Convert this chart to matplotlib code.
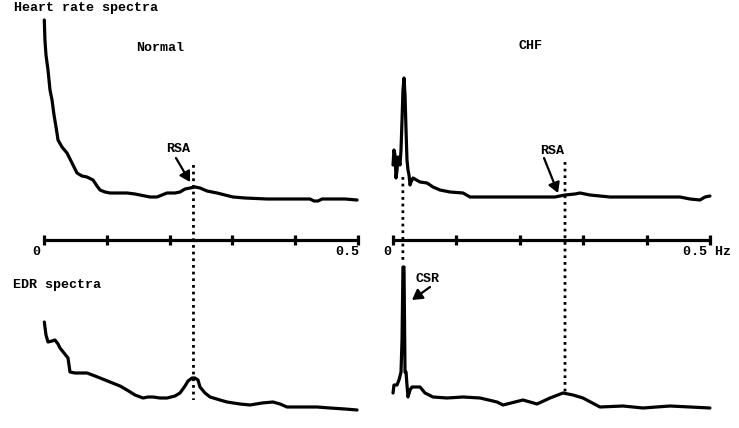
import matplotlib
matplotlib.use("Agg")
import matplotlib.pyplot as plt
from matplotlib.patches import ConnectionPatch

# ---------------- data (frequency in Hz, power in arbitrary units) ----------------
hr_normal_f = [0.0, 0.001, 0.0027, 0.0059, 0.0091, 0.0123, 0.0155, 0.0187, 0.0219, 0.0282,
               0.0362, 0.0442, 0.0522, 0.0601, 0.0681, 0.0777, 0.0841, 0.0889, 0.0968, 0.1048,
               0.1208, 0.1319, 0.1447, 0.1527, 0.1686, 0.1798, 0.1878, 0.1958, 0.2085, 0.2165,
               0.2245, 0.2325, 0.2404, 0.2484, 0.2596, 0.2676, 0.2756, 0.2883, 0.3011, 0.3203,
               0.3553, 0.3920, 0.4239, 0.4303, 0.4367, 0.4431, 0.4606, 0.4798, 0.4990]
hr_normal_p = [220, 200, 185, 170, 150, 140, 125, 113, 100, 93,
               87, 77, 67, 64, 63, 60, 54, 50, 48, 47,
               47, 47, 46, 45, 43, 43, 45, 47, 47, 48,
               51, 52, 53, 52, 49, 48, 47, 45, 43, 42,
               41, 41, 41, 39, 39, 41, 41, 41, 40]

hr_chf_f = [0.0005, 0.002, 0.0036, 0.0052, 0.0068, 0.0083, 0.0099, 0.0115, 0.0131, 0.0147,
            0.0162, 0.0178, 0.0194, 0.0210, 0.0225, 0.0241, 0.0257, 0.0273, 0.0288, 0.0320,
            0.0430, 0.0541, 0.0635, 0.0745, 0.0903, 0.1108, 0.1218, 0.1691, 0.2163, 0.2557,
            0.2715, 0.2872, 0.2951, 0.3108, 0.3423, 0.3897, 0.4527, 0.4685, 0.4842, 0.4921, 0.4999]
hr_chf_p = [75, 90, 85, 62, 70, 83, 80, 75, 90, 120,
            150, 162, 145, 110, 80, 70, 65, 55, 58, 62,
            58, 57, 53, 50, 48, 47, 43, 43, 43, 43,
            45, 46, 47, 45, 43, 43, 43, 41, 40, 43, 44]

edr_normal_f = [0.0, 0.0027, 0.0059, 0.0123, 0.0171, 0.0219, 0.0251, 0.0314, 0.0378, 0.041,
                0.0490, 0.0681, 0.0809, 0.0889, 0.1048, 0.1208, 0.1319, 0.1447, 0.1575, 0.1655,
                0.1734, 0.1846, 0.1958, 0.2085, 0.2165, 0.2245, 0.2293, 0.2357, 0.2404, 0.2452,
                0.2484, 0.2564, 0.2644, 0.2803, 0.2915, 0.3122, 0.3282, 0.3473, 0.3649, 0.3761,
                0.3872, 0.4080, 0.4351, 0.4558, 0.4798, 0.4990]
edr_normal_p = [98, 85, 78, 79, 80, 76, 72, 67, 62, 48,
                47, 47, 44, 42, 38, 34, 30, 25, 22, 23,
                23, 22, 22, 24, 27, 34, 39, 42, 42, 40,
                33, 27, 23, 20, 18, 16, 15, 17, 18, 16,
                13, 13, 13, 12, 11, 10]

edr_chf_f = [0.0005, 0.002, 0.0068, 0.0099, 0.0131, 0.0147, 0.0162, 0.0178, 0.0194, 0.0210,
             0.0225, 0.0241, 0.0273, 0.0304, 0.0430, 0.0509, 0.0635, 0.0856, 0.1108, 0.1376,
             0.1644, 0.1738, 0.2053, 0.2274, 0.2479, 0.2683, 0.2841, 0.2998, 0.3266, 0.3629,
             0.3944, 0.4369, 0.4685, 0.4999]
edr_chf_p = [27, 35, 35, 40, 48, 80, 153, 153, 48, 48,
             35, 23, 30, 33, 33, 27, 23, 22, 23, 22,
             18, 15, 20, 16, 22, 27, 25, 22, 13, 14,
             12, 14, 13, 12]

ticks = [0.0, 0.1, 0.2, 0.3, 0.4, 0.5]
rsa_normal = 0.238
rsa_chf = 0.2715
csr_chf = 0.016

# ---------------- figure ----------------
W, H = 739, 428
fig = plt.figure(figsize=(W / 100, H / 100), dpi=100)
FONT = dict(family="Liberation Mono", fontweight="bold", fontsize=9.6, color="black")

def box(x0, x1, ytop, ybot):
    return [x0 / W, (H - ybot) / H, (x1 - x0) / W, (ybot - ytop) / H]

ax_tl = fig.add_axes(box(44.3, 357.7, 0, 240))
ax_tr = fig.add_axes(box(392.7, 710.0, 0, 240))
ax_bl = fig.add_axes(box(44.3, 357.7, 250, 420))
ax_br = fig.add_axes(box(392.7, 710.0, 250, 420))

for ax in (ax_tl, ax_tr):
    ax.set_xlim(0, 0.5)
    ax.set_ylim(0, 240)
for ax in (ax_bl, ax_br):
    ax.set_xlim(0, 0.5)
    ax.set_ylim(0, 170)

for ax in (ax_tl, ax_tr, ax_bl, ax_br):
    ax.patch.set_visible(False)
    for s in ("top", "right", "left"):
        ax.spines[s].set_visible(False)
    ax.set_yticks([])

for ax in (ax_bl, ax_br):
    ax.spines["bottom"].set_visible(False)
    ax.set_xticks([])

for ax in (ax_tl, ax_tr):
    ax.spines["bottom"].set_linewidth(2.3)
    ax.spines["bottom"].set_capstyle("butt")
    ax.set_xticks(ticks)
    ax.set_xticklabels([])
    ax.tick_params(axis="x", direction="inout", length=6.5, width=2.3, color="black")

LW = 2.3
kw = dict(color="black", lw=LW, solid_joinstyle="round", solid_capstyle="round", clip_on=False)
ax_tl.plot(hr_normal_f, hr_normal_p, **kw)
ax_tr.plot(hr_chf_f, hr_chf_p, **kw)
ax_bl.plot(edr_normal_f, edr_normal_p, **kw)
ax_br.plot(edr_chf_f, edr_chf_p, **kw)

# axis numbers
ax_tl.text(-0.006, -12, "0", ha="right", va="center", **FONT)
ax_tl.text(0.4638, -12, "0.5", ha="left", va="center", **FONT)
ax_tr.text(-0.003, -12, "0", ha="right", va="center", **FONT)
ax_tr.text(0.4575, -12, "0.5 Hz", ha="left", va="center", **FONT)

# titles / labels
fig.text(14 / W, 1 - 8 / H, "Heart rate spectra", ha="left", va="center", **FONT)
fig.text(13 / W, 1 - 285 / H, "EDR spectra", ha="left", va="center", **FONT)
ax_tl.text(0.184, 192, "Normal", ha="center", va="center", **FONT)
ax_tr.text(0.2175, 194, "CHF", ha="center", va="center", **FONT)

# annotations
akw = dict(arrowstyle="-|>,head_length=0.6,head_width=0.35", color="black", lw=1.6,
           shrinkA=0, shrinkB=0, mutation_scale=10)
ax_tl.annotate("", xy=(0.2325, 58), xytext=(0.2101, 82), arrowprops=akw, annotation_clip=False)
ax_tl.text(0.2133, 91, "RSA", ha="center", va="center", **FONT)
ax_tr.annotate("", xy=(0.2605, 47), xytext=(0.2384, 82), arrowprops=akw, annotation_clip=False)
ax_tr.text(0.251, 89, "RSA", ha="center", va="center", **FONT)
ax_br.annotate("", xy=(0.0304, 120), xytext=(0.0588, 133), arrowprops=akw, annotation_clip=False)
ax_br.text(0.0556, 141, "CSR", ha="center", va="center", **FONT)

# dotted guide lines linking heart-rate and EDR peaks
def dotted(ax_a, ax_b, x, ya, yb):
    cp = ConnectionPatch(xyA=(x, ya), coordsA="data", axesA=ax_a,
                         xyB=(x, yb), coordsB="data", axesB=ax_b,
                         color="black", lw=2.0, linestyle=(0, (1, 1.4)), capstyle="butt")
    fig.add_artist(cp)

dotted(ax_tl, ax_bl, rsa_normal, 75, 20)
dotted(ax_tr, ax_br, rsa_chf, 78, 28)
dotted(ax_tr, ax_br, csr_chf, 63, 158)

fig.savefig("out.png", dpi=100, facecolor="white")
